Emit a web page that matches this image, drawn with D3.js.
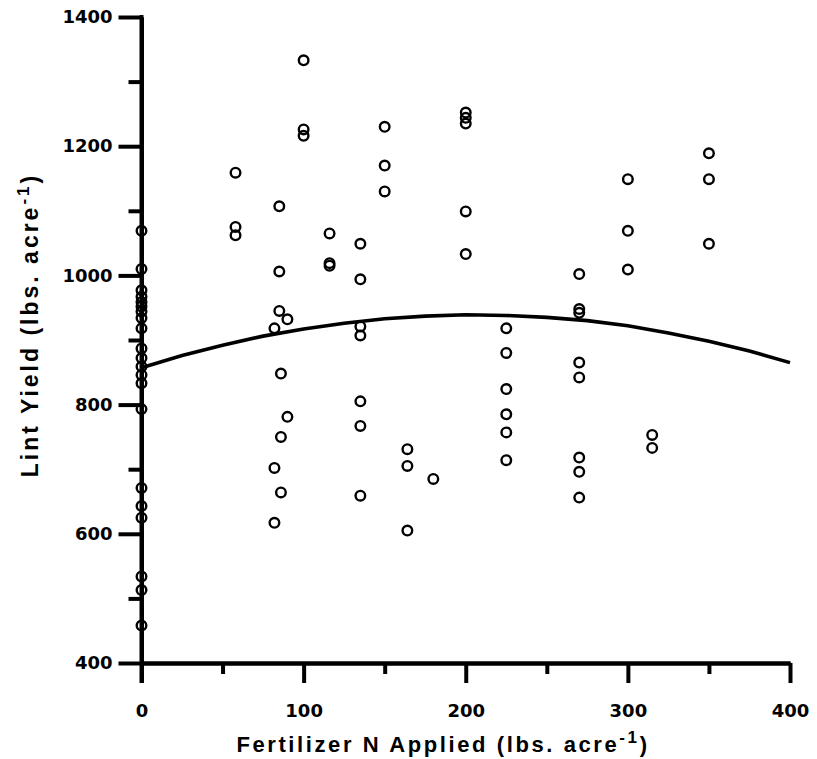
<!DOCTYPE html>
<html lang="en">
<head>
	<meta charset="UTF-8">
	<title>lint yield vs fertilizer N</title>
	<style>
		* {
			margin: 0;
			padding: 0;
		}
		body {
			background: #fff;
		}
		svg {
			display: block;
			font-family: "Liberation Sans", Arial, sans-serif;
			font-weight: bold;
		}
		.axis path, .axis line {
			stroke: #000;
			stroke-width: 4px;
		}
		.axis text {
			font-family: "DejaVu Sans", sans-serif;
			font-size: 18px;
			font-weight: bold;
			fill: #000;
		}
	</style>
</head>
<body>
	<script src="https://cdn.jsdelivr.net/npm/d3@7"></script>
	<script>
		// N rate (lbs/acre) and lint yield for each observation
		var fertN = [
			0, 0, 0, 0, 0, 0, 0, 0, 0, 0, 0, 0, 0, 0, 0, 0, 0, 0, 0, 0, 0,
			58, 58, 58,
			85, 85, 85, 90, 82, 86, 90, 86, 82, 86, 82,
			100, 100, 100,
			116, 116, 116,
			135, 135, 135, 135, 135, 135, 135,
			150, 150, 150,
			164, 164, 164,
			180,
			200, 200, 200, 200, 200,
			225, 225, 225, 225, 225, 225,
			270, 270, 270, 270, 270, 270, 270, 270,
			300, 300, 300,
			315, 315,
			350, 350, 350
		];
		var lintYield = [
			1069, 1010, 977, 967, 959, 952, 944, 934, 918, 887, 872, 859, 846, 833, 793, 671, 643, 625, 534, 513, 458,
			1159, 1075, 1062,
			1107, 1006, 945, 932, 918, 848, 781, 750, 702, 664, 617,
			1333, 1226, 1216,
			1065, 1019, 1015,
			1049, 994, 921, 907, 805, 767, 659,
			1230, 1170, 1130,
			731, 705, 605,
			685,
			1252, 1244, 1235, 1099, 1033,
			918, 880, 824, 785, 757, 714,
			1002, 948, 942, 865, 842, 718, 696, 656,
			1149, 1069, 1009,
			753, 733,
			1189, 1149, 1049
		];

		// fitted response curve
		var curveN = [0, 25, 50, 75, 100, 125, 150, 175, 200, 225, 250, 275, 300, 325, 350, 375, 400];
		var curveYield = [857, 876, 892, 906, 917, 926, 933, 937, 939, 938, 935, 930, 922, 911, 898, 883, 865];

		var xMajor = [0, 100, 200, 300, 400];
		var xMinor = [50, 150, 250, 350];
		var yMajor = [400, 600, 800, 1000, 1200, 1400];
		var yMinor = [500, 700, 900, 1100, 1300];

		var contentWidth = 817, contentHeight = 759;
		var padding = { top: 17, right: 27, bottom: 96, left: 141.5 };
		var width = contentWidth - padding.left - padding.right;
		var height = contentHeight - padding.top - padding.bottom;

		var svg = d3.select('body').append('svg')
			.attr('width', contentWidth)
			.attr('height', contentHeight);

		var xScale = d3.scaleLinear().domain([0, 400]).range([0, width]);
		var yScale = d3.scaleLinear().domain([400, 1400]).range([height, 0]);

		var box = svg.append('g').attr('transform', 'translate(' + padding.left + ',' + padding.top + ')');

		// x axis: minor then major ticks
		box.append('g')
			.attr('class', 'axis')
			.attr('transform', 'translate(0,' + height + ')')
			.call(d3.axisBottom(xScale).tickValues(xMinor).tickSize(11).tickSizeOuter(0).tickFormat(''));
		box.append('g')
			.attr('class', 'axis')
			.attr('transform', 'translate(0,' + height + ')')
			.call(d3.axisBottom(xScale).tickValues(xMajor).tickSize(20).tickSizeOuter(0).tickPadding(21).tickFormat(d3.format('d')));

		// y axis
		box.append('g')
			.attr('class', 'axis')
			.call(d3.axisLeft(yScale).tickValues(yMinor).tickSize(13).tickSizeOuter(0).tickFormat(''));
		var yAx = box.append('g')
			.attr('class', 'axis')
			.call(d3.axisLeft(yScale).tickValues(yMajor).tickSize(23).tickSizeOuter(0).tickPadding(6).tickFormat(d3.format('d')));

		// y axis runs on below the x axis
		yAx.append('line')
			.attr('x1', 0).attr('x2', 0)
			.attr('y1', yScale(1400) - 2)
			.attr('y2', height + 20);

		// fitted curve
		var line = d3.line()
			.x(function (d, i) { return xScale(curveN[i]); })
			.y(function (d) { return yScale(d); });

		box.append('path')
			.datum(curveYield)
			.attr('d', line)
			.attr('fill', 'none')
			.attr('stroke', '#000')
			.attr('stroke-width', 3.6);

		// observations
		box.selectAll('circle.obs')
			.data(lintYield)
			.enter()
			.append('circle')
			.classed('obs', true)
			.attr('cx', function (d, i) { return xScale(fertN[i]); })
			.attr('cy', function (d) { return yScale(d); })
			.attr('r', 4.8)
			.attr('fill', 'none')
			.attr('stroke', '#000')
			.attr('stroke-width', 2.4);

		// axis titles
		var xTitle = svg.append('text')
			.attr('x', 443)
			.attr('y', 752)
			.attr('text-anchor', 'middle')
			.style('font-size', '22px')
			.style('letter-spacing', '2.6px');
		xTitle.append('tspan').text('Fertilizer N Applied (lbs. acre');
		xTitle.append('tspan').attr('dy', -9).style('font-size', '17px').text('-1');
		xTitle.append('tspan').attr('dy', 9).text(')');

		var yTitle = svg.append('text')
			.attr('transform', 'translate(38,325) rotate(-90)')
			.attr('text-anchor', 'middle')
			.style('font-size', '23px')
			.style('letter-spacing', '3px');
		yTitle.append('tspan').text('Lint Yield (lbs. acre');
		yTitle.append('tspan').attr('dy', -9).style('font-size', '17px').text('-1');
		yTitle.append('tspan').attr('dy', 9).text(')');
	</script>
</body>
</html>
